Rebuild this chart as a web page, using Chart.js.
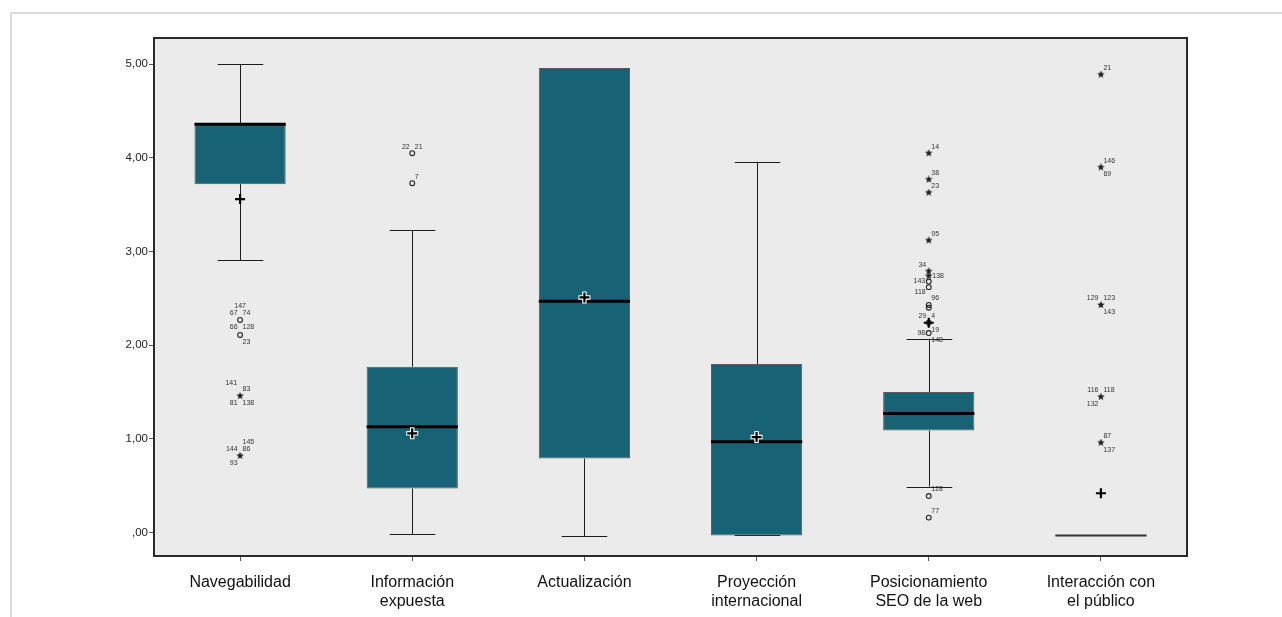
<!DOCTYPE html>
<html lang="es">
<head>
<meta charset="utf-8">
<title>Diagrama de caja por dimensión</title>
<script src="https://cdn.jsdelivr.net/npm/chart.js@4.4.1/dist/chart.umd.min.js"></script>
<style>
  html, body { margin: 0; padding: 0; background: #ffffff; }
  #wrap { width: 1282px; height: 617px; position: relative; }
</style>
</head>
<body>
<div id="wrap"><canvas id="chart" width="1282" height="617"></canvas></div>
<script>
// Dimensions evaluated (one box per dimension)
const categories = [
  'Navegabilidad',
  'Información expuesta',
  'Actualización',
  'Proyección internacional',
  'Posicionamiento SEO de la web',
  'Interacción con el público'
];
const categoryLines = [
  ['Navegabilidad'],
  ['Información', 'expuesta'],
  ['Actualización'],
  ['Proyección', 'internacional'],
  ['Posicionamiento', 'SEO de la web'],
  ['Interacción con', 'el público']
];

// Five-number summaries and means
const q1          = [3.72, 0.47, 0.79, -0.03, 1.09, -0.03];
const median      = [4.36, 1.13, 2.47,  0.97, 1.27, -0.03];
const q3          = [4.36, 1.77, 4.96,  1.80, 1.50, -0.03];
const whiskerLow  = [2.91, -0.02, -0.04, -0.03, 0.49, -0.03];
const whiskerHigh = [5.00, 3.23, 4.96,  3.96, 2.07, -0.03];
const means       = [3.56, 1.06, 2.51,  1.02, 2.24, 0.42];

// Y axis ticks
const yTicks = [0, 1, 2, 3, 4, 5];
const yTickLabels = [',00', '1,00', '2,00', '3,00', '4,00', '5,00'];

// Outlying cases: 'o' = atypical, '*' = extreme; case numbers keyed by label slot
const outNavegabilidad = [
  { v: 2.27, mark: 'o', ids: { n: '147', nw: '67', ne: '74', sw: '66', se: '128' } },
  { v: 2.11, mark: 'o', ids: { se: '23' } },
  { v: 1.46, mark: '*', ids: { nnw: '141', ne: '83', sw: '81', se: '138' } },
  { v: 0.82, mark: '*', ids: { nne: '145', nw: '144', ne: '86', sw: '93' } }
];
const outInformacion = [
  { v: 4.05, mark: 'o', ids: { nw: '22', ne: '21' } },
  { v: 3.73, mark: 'o', ids: { ne: '7' } }
];
const outActualizacion = [];
const outProyeccion = [];
const outPosicionamiento = [
  { v: 4.05, mark: '*', ids: { ne: '14' } },
  { v: 3.77, mark: '*', ids: { ne: '38' } },
  { v: 3.63, mark: '*', ids: { ne: '23' } },
  { v: 3.12, mark: '*', ids: { ne: '95' } },
  { v: 2.79, mark: '*', ids: { nw: '34' } },
  { v: 2.74, mark: '*', ids: { e: '138' } },
  { v: 2.68, mark: 'o', ids: { w: '143' } },
  { v: 2.62, mark: 'o', ids: {} },
  { v: 2.43, mark: 'o', ids: { nnw: '118', ne: '96' } },
  { v: 2.40, mark: 'o', ids: {} },
  { v: 2.24, mark: 'o', ids: { ne: '4', nw: '29', se: '19' } },
  { v: 2.13, mark: 'o', ids: { w: '98', se: '148' } },
  { v: 0.39, mark: 'o', ids: { ne: '128' } },
  { v: 0.16, mark: 'o', ids: { ne: '77' } }
];
const outInteraccion = [
  { v: 4.89, mark: '*', ids: { ne: '21' } },
  { v: 3.90, mark: '*', ids: { ne: '146', se: '69' } },
  { v: 2.43, mark: '*', ids: { nw: '129', ne: '123', se: '143' } },
  { v: 1.45, mark: '*', ids: { nw: '116', ne: '118', sw: '132' } },
  { v: 0.96, mark: '*', ids: { ne: '87', se: '137' } }
];
const outliersByCategory = [
  outNavegabilidad, outInformacion, outActualizacion,
  outProyeccion, outPosicionamiento, outInteraccion
];

// ---- styles ----
const BOX_FILL = '#186275';
const INK = '#1e1e1e';
const PLOT_BG = '#ebebeb';

// label slot offsets relative to a marker: [dx, dy, align]
const SLOTS = {
  n:   [0, -14, 'center'],
  nw:  [-2.5, -6.5, 'right'],
  ne:  [2.5, -6.5, 'left'],
  sw:  [-2.5, 7, 'right'],
  se:  [2.5, 7, 'left'],
  nnw: [-3, -12.5, 'right'],
  nne: [2.5, -13.5, 'left'],
  w:   [-3.5, 0, 'right'],
  e:   [3.5, 0, 'left']
};

// filled star used for extreme cases
function makeStar(size) {
  const c = document.createElement('canvas');
  c.width = size; c.height = size;
  const g = c.getContext('2d');
  const cx = size / 2, cy = size / 2, R = size / 2, r = R * 0.45;
  g.beginPath();
  for (let k = 0; k < 10; k++) {
    const rad = k % 2 === 0 ? R : r;
    const a = -Math.PI / 2 + k * Math.PI / 5;
    const px = cx + rad * Math.cos(a), py = cy + rad * Math.sin(a);
    if (k === 0) g.moveTo(px, py); else g.lineTo(px, py);
  }
  g.closePath();
  g.fillStyle = '#222';
  g.fill();
  return c;
}
const starImg = makeStar(8);

// flatten outliers into point datasets
const circlePts = [], starPts = [];
outliersByCategory.forEach((list, i) => {
  list.forEach(o => {
    const p = { x: categories[i], y: o.v, ids: o.ids };
    (o.mark === '*' ? starPts : circlePts).push(p);
  });
});

const boxData = categories.map((_, i) => [q1[i], q3[i]]);

// background, frame and page border
const framePlugin = {
  id: 'frame',
  beforeDraw(chart) {
    const { ctx, chartArea: a } = chart;
    ctx.save();
    ctx.fillStyle = '#ffffff';
    ctx.fillRect(0, 0, chart.width, chart.height);
    ctx.strokeStyle = '#dcdcdc';
    ctx.lineWidth = 2;
    ctx.beginPath();
    ctx.moveTo(11, chart.height);
    ctx.lineTo(11, 13);
    ctx.lineTo(chart.width, 13);
    ctx.stroke();
    ctx.fillStyle = PLOT_BG;
    ctx.fillRect(a.left, a.top, a.right - a.left, a.bottom - a.top);
    ctx.restore();
  },
  afterDraw(chart) {
    const { ctx, chartArea: a } = chart;
    ctx.save();
    ctx.strokeStyle = '#2a2a2a';
    ctx.lineWidth = 2;
    ctx.beginPath();
    ctx.moveTo(a.left, a.top);
    ctx.lineTo(a.right, a.top);
    ctx.lineTo(a.right, a.bottom);
    ctx.stroke();
    ctx.restore();
  }
};

// whiskers, medians and means, all positioned via the scales
const boxPlotPlugin = {
  id: 'boxParts',
  beforeDatasetsDraw(chart) {
    const { ctx } = chart;
    const y = chart.scales.y;
    const bars = chart.getDatasetMeta(0).data;
    ctx.save();
    ctx.strokeStyle = INK;
    ctx.lineWidth = 1;
    bars.forEach((bar, i) => {
      const x = Math.round(bar.x) + 0.5;
      const half = bar.width / 4;
      const yl = y.getPixelForValue(whiskerLow[i]);
      const yh = y.getPixelForValue(whiskerHigh[i]);
      const yq1 = y.getPixelForValue(q1[i]);
      const yq3 = y.getPixelForValue(q3[i]);
      ctx.beginPath();
      ctx.moveTo(x, yq3); ctx.lineTo(x, yh);
      ctx.moveTo(x, yq1); ctx.lineTo(x, yl);
      ctx.moveTo(x - half, Math.round(yh) + 0.5); ctx.lineTo(x + half, Math.round(yh) + 0.5);
      ctx.moveTo(x - half, Math.round(yl) + 0.5); ctx.lineTo(x + half, Math.round(yl) + 0.5);
      ctx.stroke();
    });
    ctx.restore();
  },
  afterDatasetsDraw(chart) {
    const { ctx } = chart;
    const y = chart.scales.y;
    const bars = chart.getDatasetMeta(0).data;
    ctx.save();
    bars.forEach((bar, i) => {
      const left = bar.x - bar.width / 2, right = bar.x + bar.width / 2;
      const ym = y.getPixelForValue(median[i]);
      const flat = q1[i] === q3[i];
      ctx.strokeStyle = flat ? '#333' : '#000';
      ctx.lineWidth = flat ? 2 : 3;
      ctx.beginPath();
      ctx.moveTo(left, ym); ctx.lineTo(right, ym);
      ctx.stroke();
    });
    // means
    bars.forEach((bar, i) => {
      const x = bar.x;
      const ym = y.getPixelForValue(means[i]);
      const arm = 5;
      const inside = means[i] > q1[i] && means[i] < q3[i];
      if (inside) {
        ctx.strokeStyle = '#ffffff';
        ctx.lineWidth = 4.5;
        ctx.beginPath();
        ctx.moveTo(x - arm - 1, ym); ctx.lineTo(x + arm + 1, ym);
        ctx.moveTo(x, ym - arm - 1); ctx.lineTo(x, ym + arm + 1);
        ctx.stroke();
      }
      ctx.strokeStyle = '#000';
      ctx.lineWidth = 2.2;
      ctx.beginPath();
      ctx.moveTo(x - arm, ym); ctx.lineTo(x + arm, ym);
      ctx.moveTo(x, ym - arm); ctx.lineTo(x, ym + arm);
      ctx.stroke();
    });
    // case-number labels beside outlying points
    ctx.font = '7px "Liberation Sans", Arial, sans-serif';
    ctx.fillStyle = '#333';
    ctx.textBaseline = 'middle';
    [1, 2].forEach(di => {
      const meta = chart.getDatasetMeta(di);
      const src = chart.data.datasets[di].data;
      meta.data.forEach((pt, k) => {
        const ids = src[k].ids;
        Object.keys(ids).forEach(slot => {
          const s = SLOTS[slot];
          ctx.textAlign = s[2];
          ctx.fillText(ids[slot], pt.x + s[0], pt.y + s[1]);
        });
      });
    });
    ctx.restore();
  }
};

new Chart(document.getElementById('chart'), {
  type: 'bar',
  data: {
    labels: categories,
    datasets: [
      {
        type: 'bar',
        data: boxData,
        backgroundColor: BOX_FILL,
        borderColor: '#5a5a5a',
        borderWidth: 1,
        borderSkipped: false,
        categoryPercentage: 1,
        barPercentage: 0.53,
        order: 3
      },
      {
        type: 'line',
        data: circlePts,
        showLine: false,
        pointStyle: 'circle',
        pointRadius: 2.4,
        pointBorderWidth: 1.1,
        pointBorderColor: '#222',
        pointBackgroundColor: 'rgba(0,0,0,0)',
        order: 1
      },
      {
        type: 'line',
        data: starPts,
        showLine: false,
        pointStyle: starImg,
        pointRadius: 4,
        order: 1
      }
    ]
  },
  options: {
    responsive: false,
    animation: false,
    events: [],
    layout: { padding: { left: 0, top: 38, right: 95, bottom: 0 } },
    plugins: { legend: { display: false }, tooltip: { enabled: false } },
    scales: {
      x: {
        type: 'category',
        offset: true,
        afterFit(scale) { scale.height = 61; },
        grid: { display: true, offset: false, drawOnChartArea: false, drawTicks: true, tickLength: 5, color: '#555', lineWidth: 1 },
        border: { display: true, color: '#2a2a2a', width: 2 },
        ticks: {
          padding: 12,
          color: '#111',
          maxRotation: 0,
          autoSkip: false,
          font: { family: '"Liberation Sans", Arial, sans-serif', size: 16, lineHeight: 1.2 },
          callback: (v, i) => categoryLines[i]
        }
      },
      y: {
        type: 'linear',
        min: -0.25,
        max: 5.28,
        afterFit(scale) { scale.width = 154; },
        afterBuildTicks(scale) { scale.ticks = yTicks.map(v => ({ value: v })); },
        grid: { display: true, drawOnChartArea: false, drawTicks: true, tickLength: 5, color: '#555', lineWidth: 1 },
        border: { display: true, color: '#2a2a2a', width: 2 },
        ticks: {
          padding: 1,
          color: '#222',
          font: { family: '"Liberation Sans", Arial, sans-serif', size: 11.5 },
          callback: (v, i) => yTickLabels[i]
        }
      }
    }
  },
  plugins: [framePlugin, boxPlotPlugin]
});
</script>
</body>
</html>
